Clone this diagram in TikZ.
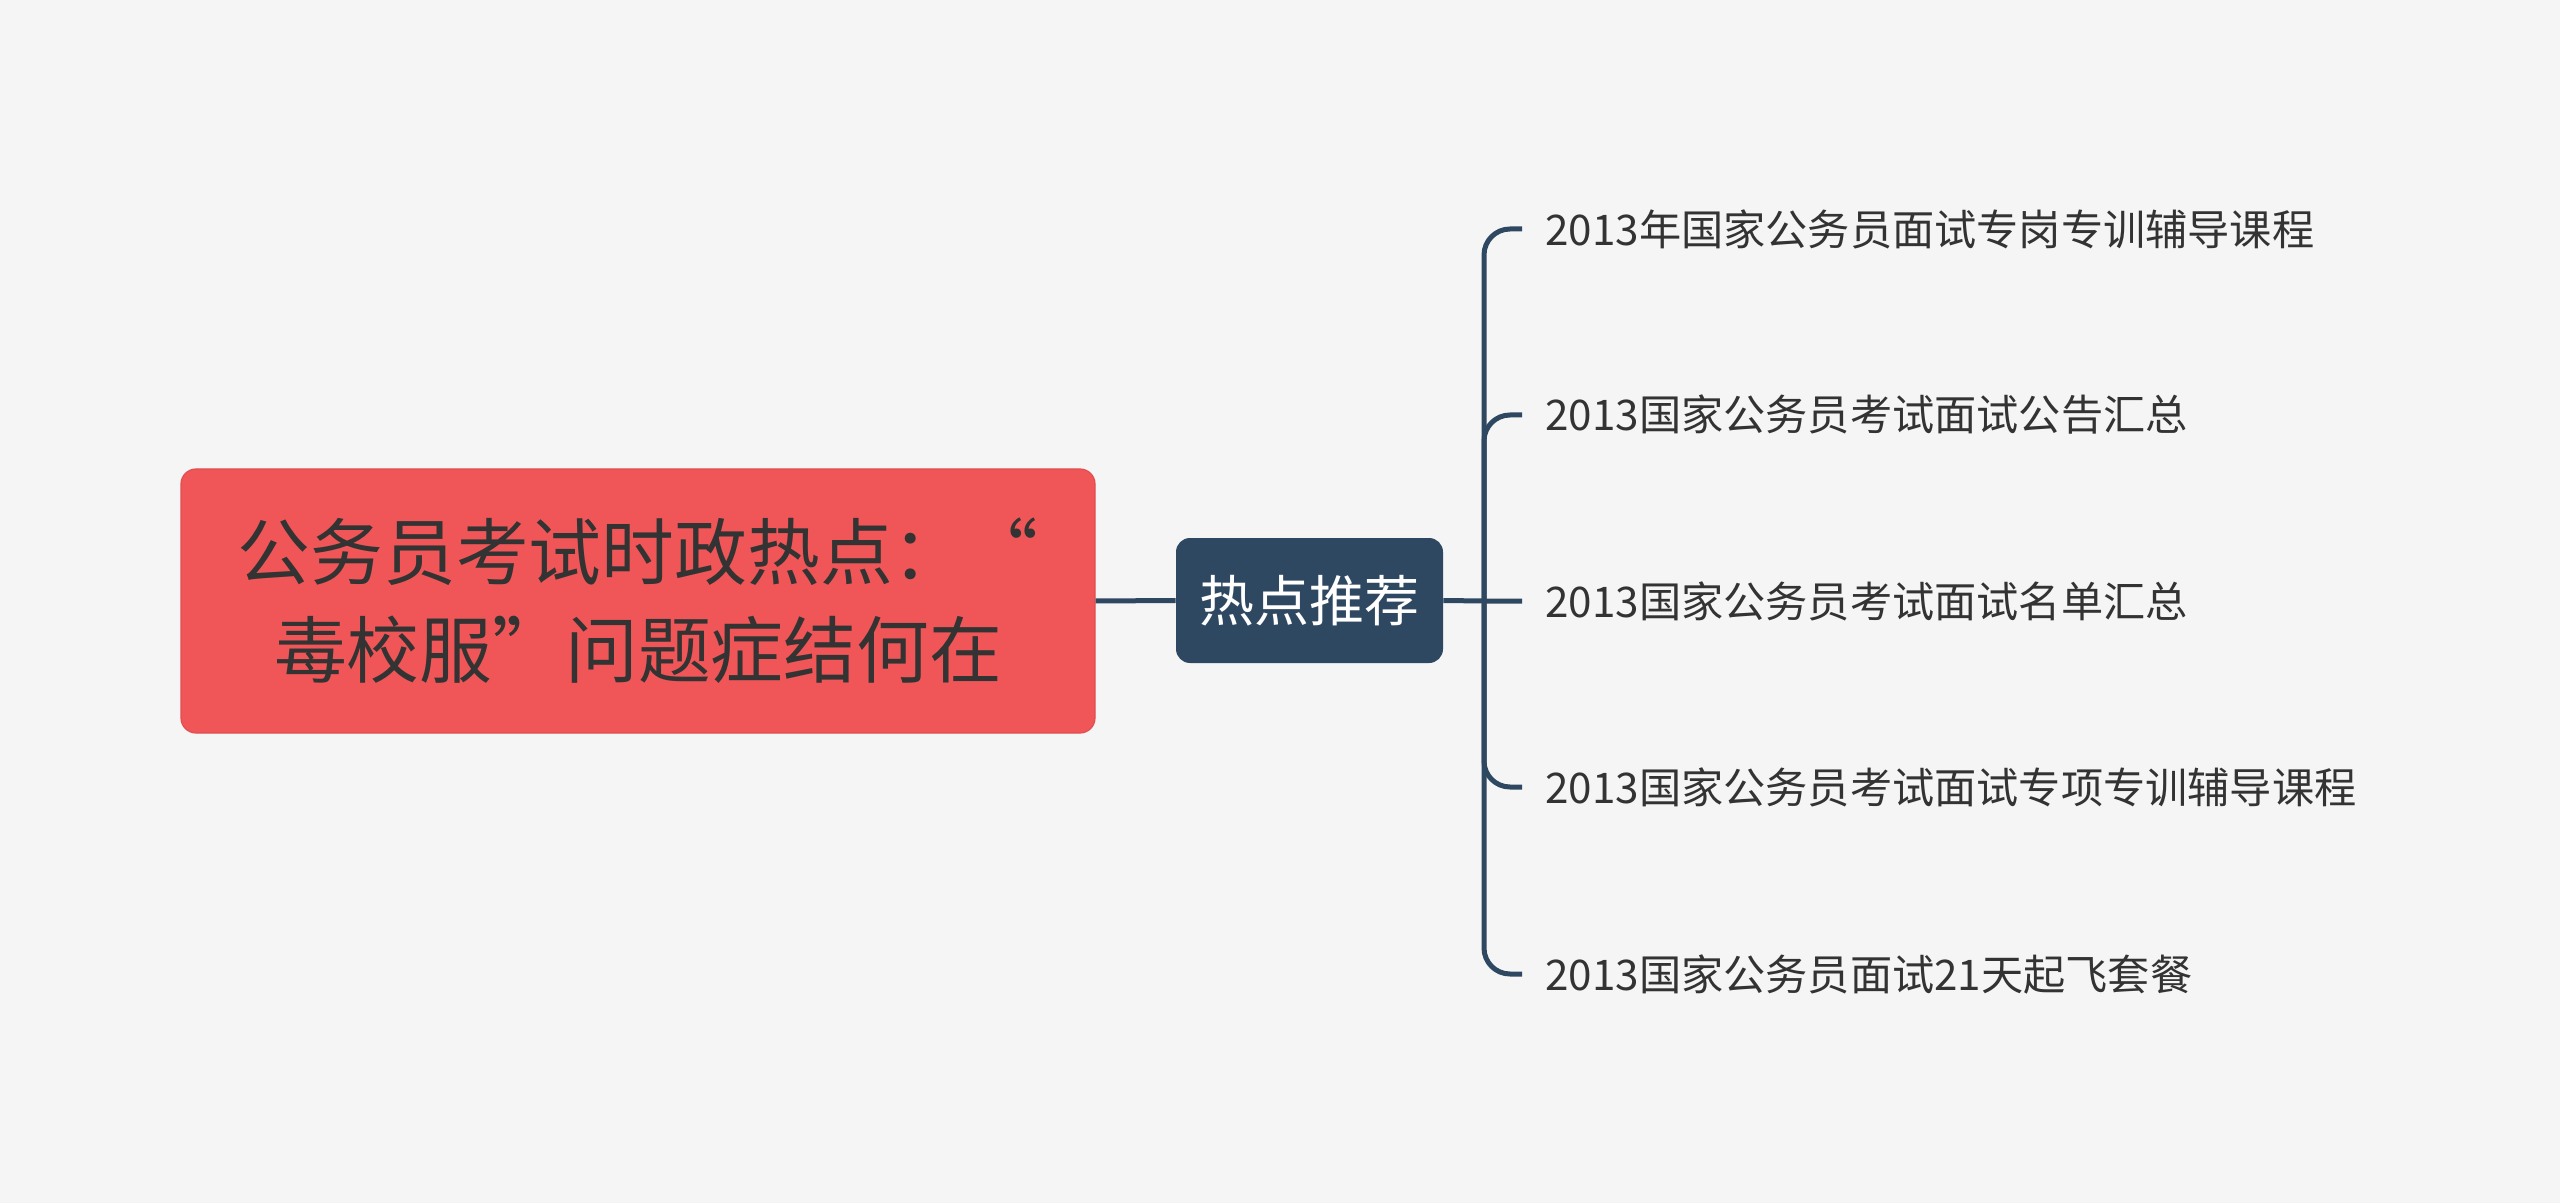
\documentclass[tikz,border=0pt]{standalone}
\usepackage{fontspec}
\newfontfamily\cjk{Noto Sans CJK SC}
\definecolor{bg}{HTML}{F5F5F5}
\definecolor{rootred}{HTML}{F05657}
\definecolor{rootedge}{HTML}{E24E50}
\definecolor{navy}{HTML}{2F4862}
\definecolor{txt}{HTML}{333333}
\tikzset{
  rootbox/.style={draw=rootedge, line width=0.6pt, fill=rootred, rounded corners=7.5pt,
    minimum width=457pt, minimum height=132pt, align=center, text=txt,
    font=\cjk\fontsize{36.4}{49}\selectfont, inner sep=0pt},
  midbox/.style={fill=navy, rounded corners=7pt, minimum width=133.5pt, minimum height=62.5pt,
    text=white, font=\cjk\fontsize{27.5}{33}\selectfont, inner sep=0pt},
  leaf/.style={anchor=west, inner sep=0pt, text=txt, font=\cjk\fontsize{21.1}{25}\selectfont},
  conn/.style={draw=navy, line width=2.5pt},
  branch/.style={conn, rounded corners=13pt}
}
\begin{document}
\begin{tikzpicture}[x=0.5pt,y=-0.5pt]
\fill[bg] (0,0) rectangle (2560,1203);
\useasboundingbox (0,0) rectangle (2560,1203);

\node[rootbox] (root) at (638,601) {公务员考试时政热点：“\\毒校服”问题症结何在};
\node[midbox] (mid) at (1309.5,600.5) {热点推荐};

\node[leaf] (l1) at (1545,229) {2013年国家公务员面试专岗专训辅导课程};
\node[leaf] (l2) at (1545,415) {2013国家公务员考试面试公告汇总};
\node[leaf] (l3) at (1545,601) {2013国家公务员考试面试名单汇总};
\node[leaf] (l4) at (1545,787) {2013国家公务员考试面试专项专训辅导课程};
\node[leaf] (l5) at (1545,974) {2013国家公务员面试21天起飞套餐};

\coordinate (J) at (1484,601);
\coordinate (e1) at (1522,229);
\coordinate (e2) at (1522,415);
\coordinate (e3) at (1522,601);
\coordinate (e4) at (1522,787);
\coordinate (e5) at (1522,974);

\draw[conn] (root.east) -- (mid.west);
\draw[conn] (mid.east) -- (J) -- (e3);
\draw[branch] (J) |- (e1);
\draw[branch] (J) |- (e2);
\draw[branch] (J) |- (e4);
\draw[branch] (J) |- (e5);
\end{tikzpicture}
\end{document}
